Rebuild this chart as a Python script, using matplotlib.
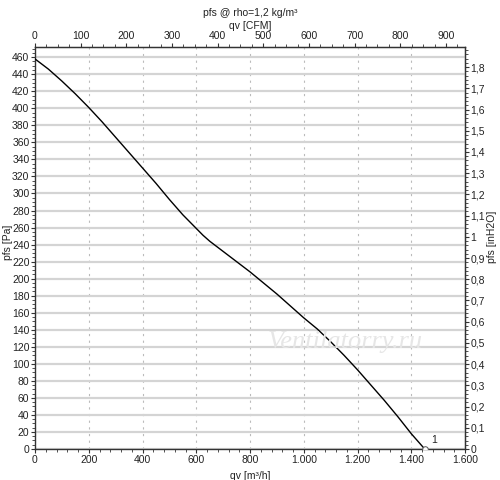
import matplotlib
matplotlib.use("Agg")
import matplotlib.pyplot as plt
from matplotlib.ticker import MultipleLocator, FuncFormatter

# Data
qv = [0, 50, 100, 150, 200, 250, 300, 350, 400, 450, 500, 550, 600, 625, 650, 675, 700,
      750, 800, 850, 900, 950, 1000, 1050, 1100, 1150, 1200, 1250, 1300, 1350, 1400, 1450]
pfs = [458, 446, 432, 417, 401, 384, 366, 348, 330, 312, 293, 275, 259, 251, 244, 238, 232,
       220, 208, 195, 182, 168, 154, 141, 126, 110, 93, 75, 57, 38, 18, 0]
curve_label = "1"

title = "pfs @ rho=1,2 kg/m³"
xlabel_bottom = "qv [m³/h]"
xlabel_top = "qv [CFM]"
ylabel_left = "pfs [Pa]"
ylabel_right = "pfs [inH2O]"
watermark = "Ventilatorry.ru"

M3H_PER_CFM = 1.699011
PA_PER_INH2O = 249.089

plt.rcParams['font.family'] = ['Liberation Sans', 'DejaVu Sans']
plt.rcParams['font.size'] = 7.5
TXT = '#222222'
AX = '#333333'

fig = plt.figure(figsize=(5, 4.8), dpi=100)
ax = fig.add_axes([35/500, 1-449/480, 430/500, 402/480])

ax.set_xlim(0, 1600)
ax.set_ylim(0, 472)

# grid
ax.yaxis.set_major_locator(MultipleLocator(20))
ax.yaxis.set_minor_locator(MultipleLocator(5))
ax.xaxis.set_major_locator(MultipleLocator(200))
ax.xaxis.set_minor_locator(MultipleLocator(40))
ax.grid(axis='y', which='major', color='#d4d4d4', linewidth=1.6, linestyle='-')
ax.grid(axis='x', which='major', color='#bbbbbb', linewidth=0.8, linestyle=(0, (2, 4)))
ax.set_axisbelow(True)

ax.plot(qv, pfs, color='black', linewidth=1.0, zorder=3)
ax.plot([qv[-1]], [pfs[-1]], marker='o', markersize=4, markerfacecolor='white',
        markeredgecolor='#555555', markeredgewidth=0.7, zorder=4, clip_on=True)
ax.text(1475, 10, curve_label, fontsize=7.5, color=TXT, ha='left', va='center')

def fmt_num(v, decimals=0):
    s = f"{v:,.{decimals}f}"
    s = s.replace(',', 'X').replace('.', ',').replace('X', '.')
    return s

ax.xaxis.set_major_formatter(FuncFormatter(lambda v, p: fmt_num(v)))
ax.yaxis.set_major_formatter(FuncFormatter(lambda v, p: fmt_num(v)))

for sp in ax.spines.values():
    sp.set_color(AX)
    sp.set_linewidth(1.0)
ax.tick_params(axis='both', which='major', direction='out', length=3, width=0.8, color=AX,
               labelcolor=TXT, labelsize=7.5, pad=1)
ax.tick_params(axis='both', which='minor', direction='out', length=2, width=0.6, color=AX)

ax.set_xlabel(xlabel_bottom, color=TXT, fontsize=7.5, labelpad=1)
ax.xaxis.set_label_coords(0.5, -0.055)

# top axis in CFM
top = ax.secondary_xaxis('top', functions=(lambda x: x / M3H_PER_CFM, lambda c: c * M3H_PER_CFM))
top.xaxis.set_major_locator(MultipleLocator(100))
top.xaxis.set_minor_locator(MultipleLocator(25))
top.xaxis.set_major_formatter(FuncFormatter(lambda v, p: fmt_num(v)))
top.tick_params(axis='x', which='major', direction='out', length=3, width=0.8, color=AX,
                labelcolor=TXT, labelsize=7.5, pad=1)
top.tick_params(axis='x', which='minor', direction='out', length=2, width=0.6, color=AX)
top.set_xlabel(xlabel_top, color=TXT, fontsize=7.5, labelpad=2)
top.spines['top'].set_color(AX)

# right axis in inH2O
right = ax.secondary_yaxis('right', functions=(lambda p: p / PA_PER_INH2O, lambda i: i * PA_PER_INH2O))
right.yaxis.set_major_locator(MultipleLocator(0.1))
right.yaxis.set_minor_locator(MultipleLocator(0.02))
def fmt_in(v, p):
    if abs(v - round(v)) < 1e-9:
        return str(int(round(v)))
    return fmt_num(v, 1)
right.yaxis.set_major_formatter(FuncFormatter(fmt_in))
right.tick_params(axis='y', which='major', direction='out', length=3, width=0.8, color=AX,
                  labelcolor=TXT, labelsize=7.5, pad=1)
right.tick_params(axis='y', which='minor', direction='out', length=2, width=0.6, color=AX)
right.spines['right'].set_color(AX)

# axis labels on the sides
fig.text(8/500, 1 - 242/480, ylabel_left, rotation=90, ha='center', va='center',
         color=TXT, fontsize=7.5)
fig.text(492/500, 1 - 237/480, ylabel_right, rotation=90, ha='center', va='center',
         color=TXT, fontsize=7.5)

fig.text(0.5, 1 - 13/480, title, ha='center', va='center', color=TXT, fontsize=7.5)

fig.text(345/500, 1 - 342/480, watermark, ha='center', va='center', color='#e6e6e6',
         fontsize=19, fontstyle='italic', family=['Liberation Serif', 'DejaVu Serif'], zorder=2)

fig.savefig('out.png', dpi=100)
